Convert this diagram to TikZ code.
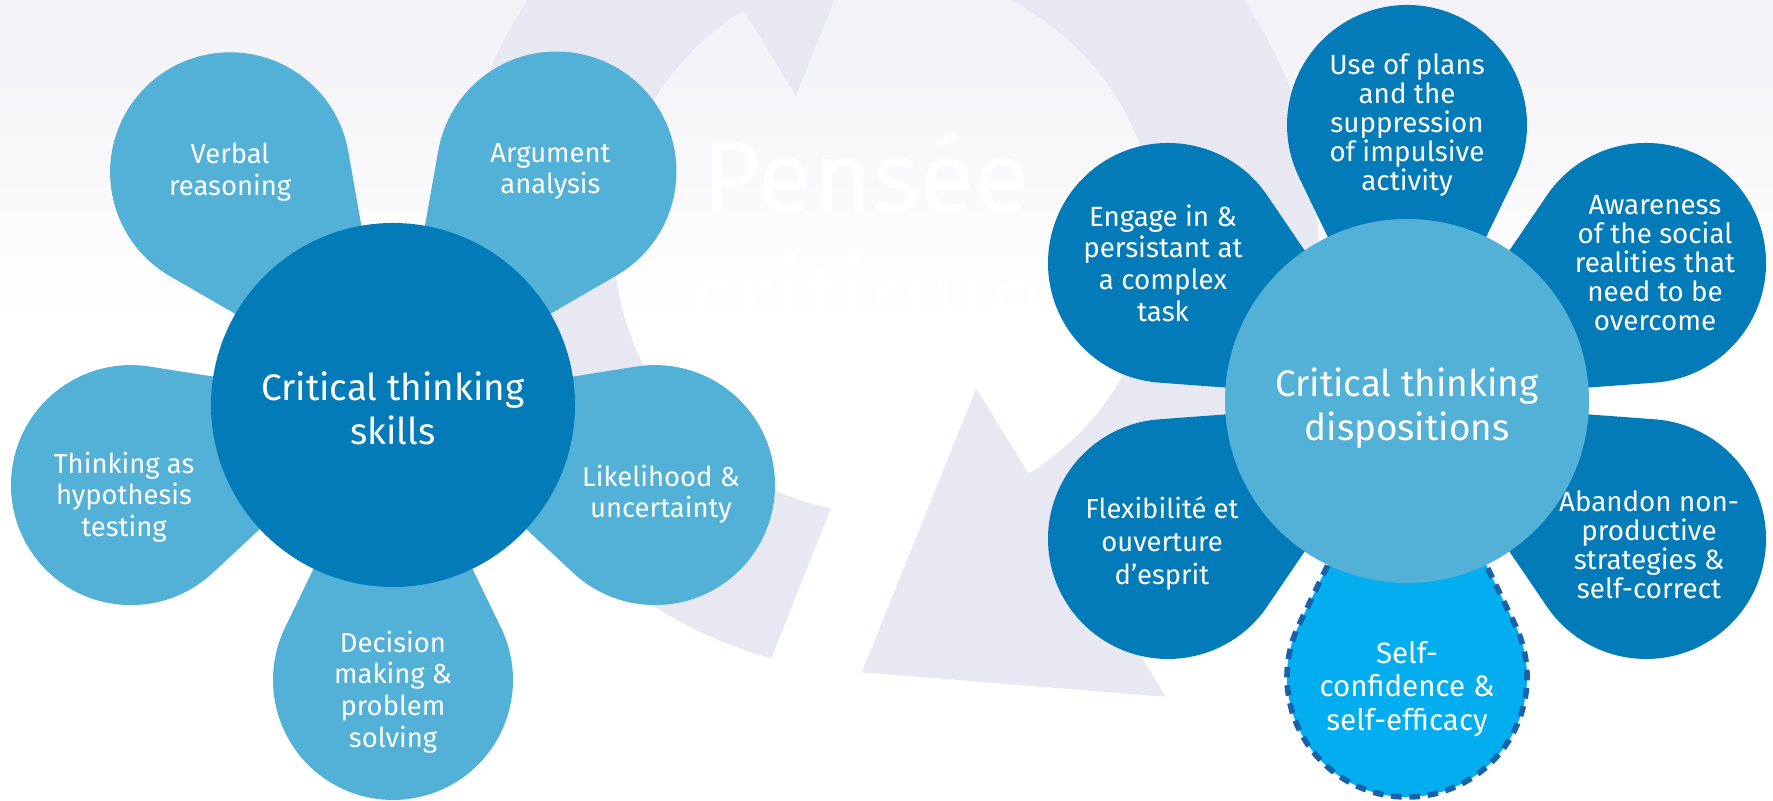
\documentclass[tikz,border=0pt]{standalone}
\usepackage{fontspec}
\setmainfont{Fira Sans}
\usepackage{tikz}
\usetikzlibrary{calc}
\definecolor{deepblue}{RGB}{4,123,185}
\definecolor{skyblue}{RGB}{83,177,216}
\definecolor{brightblue}{RGB}{2,173,240}
\definecolor{dashblue}{RGB}{24,98,172}
\definecolor{ringgrey}{RGB}{232,232,243}
\definecolor{bgtop}{RGB}{242,242,247}
\newcommand{\petalr}{1.2}
% teardrop: circle at (hub)+(angle:dist), tangents meeting in the hub
\newcommand{\petal}[4][]{%
	\pgfmathsetmacro{\tang}{acos(\petalr/#4)}
	\path[#1] (#2) -- ($(#2)+(#3:#4)+(#3+180+\tang:\petalr)$)
		arc[start angle=#3+180+\tang, end angle=#3+540-\tang, radius=\petalr] -- cycle;}

\begin{document}
\begin{tikzpicture}[
	hub/.style={circle, minimum size=3.64cm, inner sep=0pt, text=white, align=center,
		text height=0.8cm, text depth=0pt, font=\fontsize{10.5}{12.6}\selectfont},
	leaf/.style={text=white, align=center, font=\fontsize{7.8}{9}\selectfont},
	leafR/.style={text=white, align=center, font=\fontsize{7.9}{8.25}\selectfont},
	title/.style={text=white, anchor=base, font=\fontsize{28.8}{34}\selectfont}]
	\clip (0,0) rectangle (17.73,8.01);
	\shade[top color=bgtop, bottom color=white] (0,4.8) rectangle (17.73,8.01);
	\fill[white] (0,0) rectangle (17.73,4.8);
	
	% background circular arrows
	\coordinate (o) at (8.86,5.59);
	\fill[ringgrey] ($(o)+(121.6:4.32)$) arc[start angle=121.6, end angle=254.6, radius=4.32]
		-- ($(o)+(258.3:2.72)$) arc[start angle=258.3, end angle=121.6, radius=2.72] -- cycle;
	\fill[ringgrey] ($(o)+(-58.4:4.32)$) arc[start angle=-58.4, end angle=74.6, radius=4.32]
		-- ($(o)+(78.3:2.72)$) arc[start angle=78.3, end angle=-58.4, radius=2.72] -- cycle;
	\fill[ringgrey] ($(o)+(121.6:1.72)$) -- ($(o)+(121.6:5.34)$) -- ($(o)+(86.8:4.31)$) -- cycle;
	\fill[ringgrey] ($(o)+(-58.4:1.72)$) -- ($(o)+(-58.4:5.34)$) -- ($(o)+(-93.2:4.31)$) -- cycle;
	\node[title] (pensee) at (8.66,5.88) {Pensée};
	\node[title] (critique) at (8.66,4.68) {critique};
	
	% skills
	\coordinate (hubL) at (3.93,3.96);
	\petal[fill=skyblue]{hubL}{125}{2.84}
	\petal[fill=skyblue]{hubL}{55}{2.85}
	\petal[fill=skyblue]{hubL}{197}{2.74}
	\petal[fill=skyblue]{hubL}{-17}{2.74}
	\petal[fill=skyblue]{hubL}{-90}{2.75}
	\node[hub, fill=deepblue] (skills) at (hubL) {Critical thinking\\skills};
	\node[leaf] (verbal) at ($(hubL)+(125:2.84)$) {Verbal\\reasoning};
	\node[leaf, xshift=-0.6mm] (argument) at ($(hubL)+(55:2.85)$) {Argument\\analysis};
	\node[leaf, xshift=-0.7mm, yshift=-1.2mm] (hypothesis) at ($(hubL)+(197:2.74)$) {Thinking as\\hypothesis\\testing};
	\node[leaf, xshift=0.6mm, yshift=-0.9mm] (likelihood) at ($(hubL)+(-17:2.74)$) {Likelihood \&\\uncertainty};
	\node[leaf, yshift=-1.2mm] (decision) at ($(hubL)+(-90:2.75)$) {Decision\\making \&\\problem\\solving};
	
	% dispositions
	\coordinate (hubR) at (14.07,4.00);
	\petal[fill=deepblue]{hubR}{90}{2.76}
	\petal[fill=deepblue]{hubR}{30}{2.76}
	\petal[fill=deepblue]{hubR}{-30}{2.76}
	\petal[fill=deepblue]{hubR}{150}{2.76}
	\petal[fill=deepblue]{hubR}{210}{2.76}
	\petal[fill=brightblue]{hubR}{-90}{2.76}
	\petal[draw=dashblue, line width=1.6pt, dash pattern=on 3pt off 2.2pt]{hubR}{-90}{2.76}
	\node[hub, fill=skyblue] (dispositions) at (hubR) {Critical thinking\\dispositions};
	\node[leafR] (plans) at ($(hubR)+(90:2.76)$) {Use of plans\\and the\\suppression\\of impulsive\\activity};
	\node[leafR, xshift=0.9mm] (awareness) at ($(hubR)+(30:2.76)$) {Awareness\\of the social\\realities that\\need to be\\overcome};
	\node[leafR, xshift=0.3mm, yshift=-0.6mm] (abandon) at ($(hubR)+(-30:2.76)$) {Abandon non-\\productive\\strategies \&\\self-correct};
	\node[leafR, font=\fontsize{7.9}{9}\selectfont, xshift=-0.5mm] (engage) at ($(hubR)+(150:2.76)$) {Engage in \&\\persistant at\\a complex\\task};
	\node[leafR, font=\fontsize{7.8}{9.4}\selectfont, xshift=-0.6mm, yshift=-0.4mm] (flexibility) at ($(hubR)+(210:2.76)$) {Flexibilité et\\ouverture\\d’esprit};
	\node[leaf, font=\fontsize{8.4}{9.5}\selectfont, yshift=-1.2mm] (confidence) at ($(hubR)+(-90:2.76)$) {Self-\\confidence \&\\self-efficacy};
\end{tikzpicture}
\end{document}
